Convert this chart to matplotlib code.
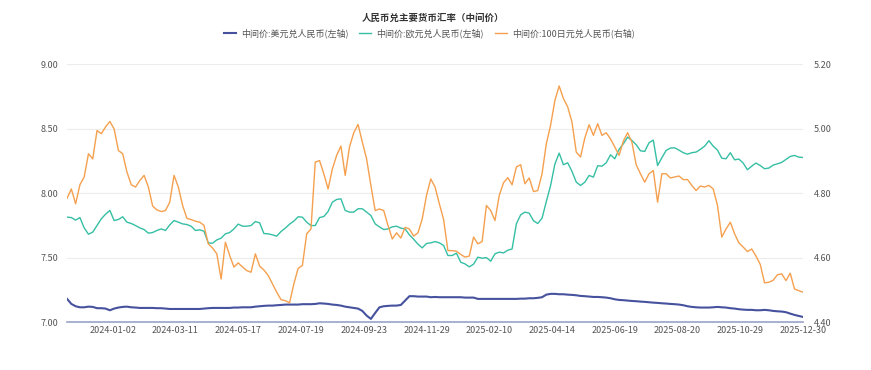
import matplotlib
matplotlib.use('Agg')
import matplotlib.pyplot as plt
import numpy as np

plt.rcParams['font.family'] = ['Noto Sans CJK SC', 'DejaVu Sans']

# trading-day index, one reading every 3 days
STEP = 3
tick_labels = ['2024-01-02', '2024-03-11', '2024-05-17', '2024-07-19', '2024-09-23', '2024-11-29',
               '2025-02-10', '2025-04-14', '2025-06-19', '2025-08-20', '2025-10-29', '2025-12-30']
first_tick_day = 32
tick_every = 44

usd = [7.181, 7.142, 7.124, 7.116, 7.116, 7.121, 7.119, 7.109, 7.109, 7.106, 7.093, 7.106, 7.114, 7.119,
       7.121, 7.116, 7.114, 7.111, 7.111, 7.111, 7.111, 7.109, 7.109, 7.106, 7.103, 7.103, 7.103, 7.103,
       7.103, 7.103, 7.103, 7.103, 7.106, 7.109, 7.111, 7.111, 7.111, 7.111, 7.111, 7.114, 7.114, 7.116,
       7.116, 7.116, 7.121, 7.124, 7.127, 7.129, 7.129, 7.132, 7.134, 7.137, 7.137, 7.137, 7.137, 7.140,
       7.140, 7.140, 7.142, 7.147, 7.145, 7.142, 7.137, 7.134, 7.129, 7.121, 7.116, 7.111, 7.106, 7.088,
       7.052, 7.026, 7.072, 7.116, 7.124, 7.127, 7.129, 7.129, 7.134, 7.168, 7.202, 7.202, 7.199, 7.199,
       7.199, 7.194, 7.196, 7.194, 7.194, 7.194, 7.194, 7.194, 7.194, 7.191, 7.191, 7.191, 7.181, 7.181,
       7.181, 7.181, 7.181, 7.181, 7.181, 7.181, 7.181, 7.181, 7.183, 7.183, 7.186, 7.186, 7.189, 7.194,
       7.214, 7.220, 7.220, 7.217, 7.217, 7.214, 7.212, 7.209, 7.204, 7.202, 7.199, 7.196, 7.196, 7.194,
       7.191, 7.186, 7.178, 7.173, 7.171, 7.168, 7.165, 7.163, 7.160, 7.158, 7.155, 7.152, 7.150, 7.147,
       7.145, 7.142, 7.140, 7.137, 7.132, 7.124, 7.119, 7.116, 7.114, 7.114, 7.114, 7.116, 7.119, 7.116,
       7.114, 7.109, 7.106, 7.101, 7.098, 7.096, 7.096, 7.093, 7.093, 7.096, 7.093, 7.088, 7.085, 7.083,
       7.078, 7.067, 7.057, 7.049, 7.041]

eur = [7.814, 7.811, 7.791, 7.811, 7.731, 7.682, 7.698, 7.749, 7.801, 7.837, 7.866, 7.788, 7.796, 7.817,
       7.775, 7.765, 7.749, 7.731, 7.718, 7.690, 7.695, 7.711, 7.723, 7.711, 7.754, 7.788, 7.775, 7.762,
       7.757, 7.744, 7.711, 7.716, 7.705, 7.615, 7.612, 7.638, 7.651, 7.685, 7.695, 7.723, 7.760, 7.744,
       7.744, 7.749, 7.780, 7.770, 7.687, 7.685, 7.677, 7.667, 7.703, 7.729, 7.760, 7.783, 7.817, 7.814,
       7.775, 7.749, 7.749, 7.811, 7.819, 7.858, 7.930, 7.951, 7.956, 7.866, 7.853, 7.853, 7.879, 7.879,
       7.853, 7.827, 7.762, 7.739, 7.718, 7.723, 7.739, 7.744, 7.729, 7.723, 7.677, 7.643, 7.605, 7.576,
       7.610, 7.615, 7.625, 7.615, 7.594, 7.517, 7.517, 7.535, 7.465, 7.452, 7.429, 7.450, 7.504, 7.496,
       7.501, 7.473, 7.530, 7.543, 7.537, 7.558, 7.568, 7.762, 7.832, 7.853, 7.845, 7.786, 7.765, 7.806,
       7.935, 8.059, 8.225, 8.310, 8.220, 8.235, 8.168, 8.085, 8.059, 8.085, 8.137, 8.124, 8.212, 8.209,
       8.235, 8.297, 8.266, 8.339, 8.382, 8.434, 8.408, 8.375, 8.328, 8.323, 8.390, 8.411, 8.214, 8.274,
       8.331, 8.349, 8.351, 8.333, 8.313, 8.302, 8.313, 8.318, 8.339, 8.364, 8.406, 8.364, 8.333, 8.271,
       8.266, 8.313, 8.258, 8.264, 8.233, 8.181, 8.209, 8.233, 8.214, 8.189, 8.194, 8.217, 8.227, 8.238,
       8.261, 8.284, 8.292, 8.279, 8.276]

jpy100 = [4.784, 4.813, 4.767, 4.826, 4.850, 4.922, 4.906, 4.994, 4.984, 5.005, 5.022, 4.999, 4.932, 4.922,
          4.865, 4.826, 4.819, 4.839, 4.855, 4.819, 4.760, 4.748, 4.743, 4.746, 4.772, 4.855, 4.819, 4.762,
          4.722, 4.718, 4.713, 4.710, 4.700, 4.643, 4.630, 4.612, 4.534, 4.648, 4.607, 4.571, 4.584, 4.571,
          4.560, 4.555, 4.612, 4.574, 4.562, 4.545, 4.519, 4.493, 4.470, 4.467, 4.460, 4.519, 4.567, 4.576,
          4.674, 4.689, 4.896, 4.901, 4.860, 4.813, 4.875, 4.917, 4.946, 4.855, 4.943, 4.987, 5.013, 4.958,
          4.906, 4.824, 4.746, 4.751, 4.746, 4.700, 4.658, 4.677, 4.661, 4.694, 4.689, 4.667, 4.677, 4.720,
          4.793, 4.844, 4.819, 4.767, 4.718, 4.622, 4.622, 4.620, 4.610, 4.602, 4.605, 4.664, 4.643, 4.650,
          4.762, 4.746, 4.715, 4.793, 4.832, 4.848, 4.826, 4.881, 4.888, 4.829, 4.847, 4.805, 4.808, 4.860,
          4.953, 5.010, 5.087, 5.132, 5.093, 5.067, 5.020, 4.927, 4.912, 4.971, 5.012, 4.979, 5.015, 4.979,
          4.987, 4.968, 4.943, 4.917, 4.961, 4.987, 4.958, 4.888, 4.860, 4.834, 4.860, 4.870, 4.772, 4.860,
          4.860, 4.847, 4.850, 4.853, 4.842, 4.842, 4.824, 4.808, 4.822, 4.819, 4.824, 4.813, 4.762, 4.664,
          4.689, 4.710, 4.674, 4.646, 4.633, 4.619, 4.627, 4.605, 4.579, 4.522, 4.524, 4.530, 4.547, 4.550,
          4.529, 4.552, 4.503, 4.498, 4.493]

days = np.arange(len(usd)) * STEP
tick_pos = first_tick_day + tick_every * np.arange(len(tick_labels))

fig = plt.figure(figsize=(8.71, 3.70), dpi=100)
ax = fig.add_axes([0.077, 0.129, 0.845, 0.698])
ax2 = ax.twinx()

l1, = ax.plot(days, usd, color='#46529e', lw=1.5, label='中间价:美元兑人民币(左轴)')
l2, = ax.plot(days, eur, color='#35bfa4', lw=1.0, label='中间价:欧元兑人民币(左轴)')
l3, = ax2.plot(days, jpy100, color='#f5a04e', lw=1.0, label='中间价:100日元兑人民币(右轴)')

ax.set_xlim(0, days[-1])
ax.set_ylim(7.0, 9.0)
ax2.set_ylim(4.4, 5.2)
ax.set_yticks(np.arange(7.0, 9.01, 0.5))
ax2.set_yticks(np.arange(4.4, 5.21, 0.2))
ax.set_yticklabels([f'{v:.2f}' for v in ax.get_yticks()])
ax2.set_yticklabels([f'{v:.2f}' for v in ax2.get_yticks()])
ax.set_xticks(tick_pos)
ax.set_xticklabels(tick_labels)

ax.grid(axis='y', color='#ececec', lw=0.8)
ax.set_axisbelow(True)
for a in (ax, ax2):
    for s in a.spines.values():
        s.set_visible(False)
    a.tick_params(length=0, labelsize=6.5, labelcolor='#555555')
ax.spines['bottom'].set_visible(True)
ax.spines['bottom'].set_color('#9aa3c8')
ax.spines['bottom'].set_linewidth(1.2)
ax.tick_params(axis='y', pad=6)
ax.tick_params(axis='x', pad=3)
ax2.tick_params(axis='y', pad=8)

fig.text(0.497, 0.953, '人民币兑主要货币汇率（中间价）', ha='center', va='center',
         fontsize=6.8, fontweight='bold', color='#333333')
fig.legend(handles=[l1, l2, l3], loc='center', bbox_to_anchor=(0.493, 0.91), ncol=3,
           frameon=False, fontsize=6.5, labelcolor='#555555', handlelength=1.3,
           handletextpad=0.6, columnspacing=1.2)

fig.savefig('out.png', dpi=100)
